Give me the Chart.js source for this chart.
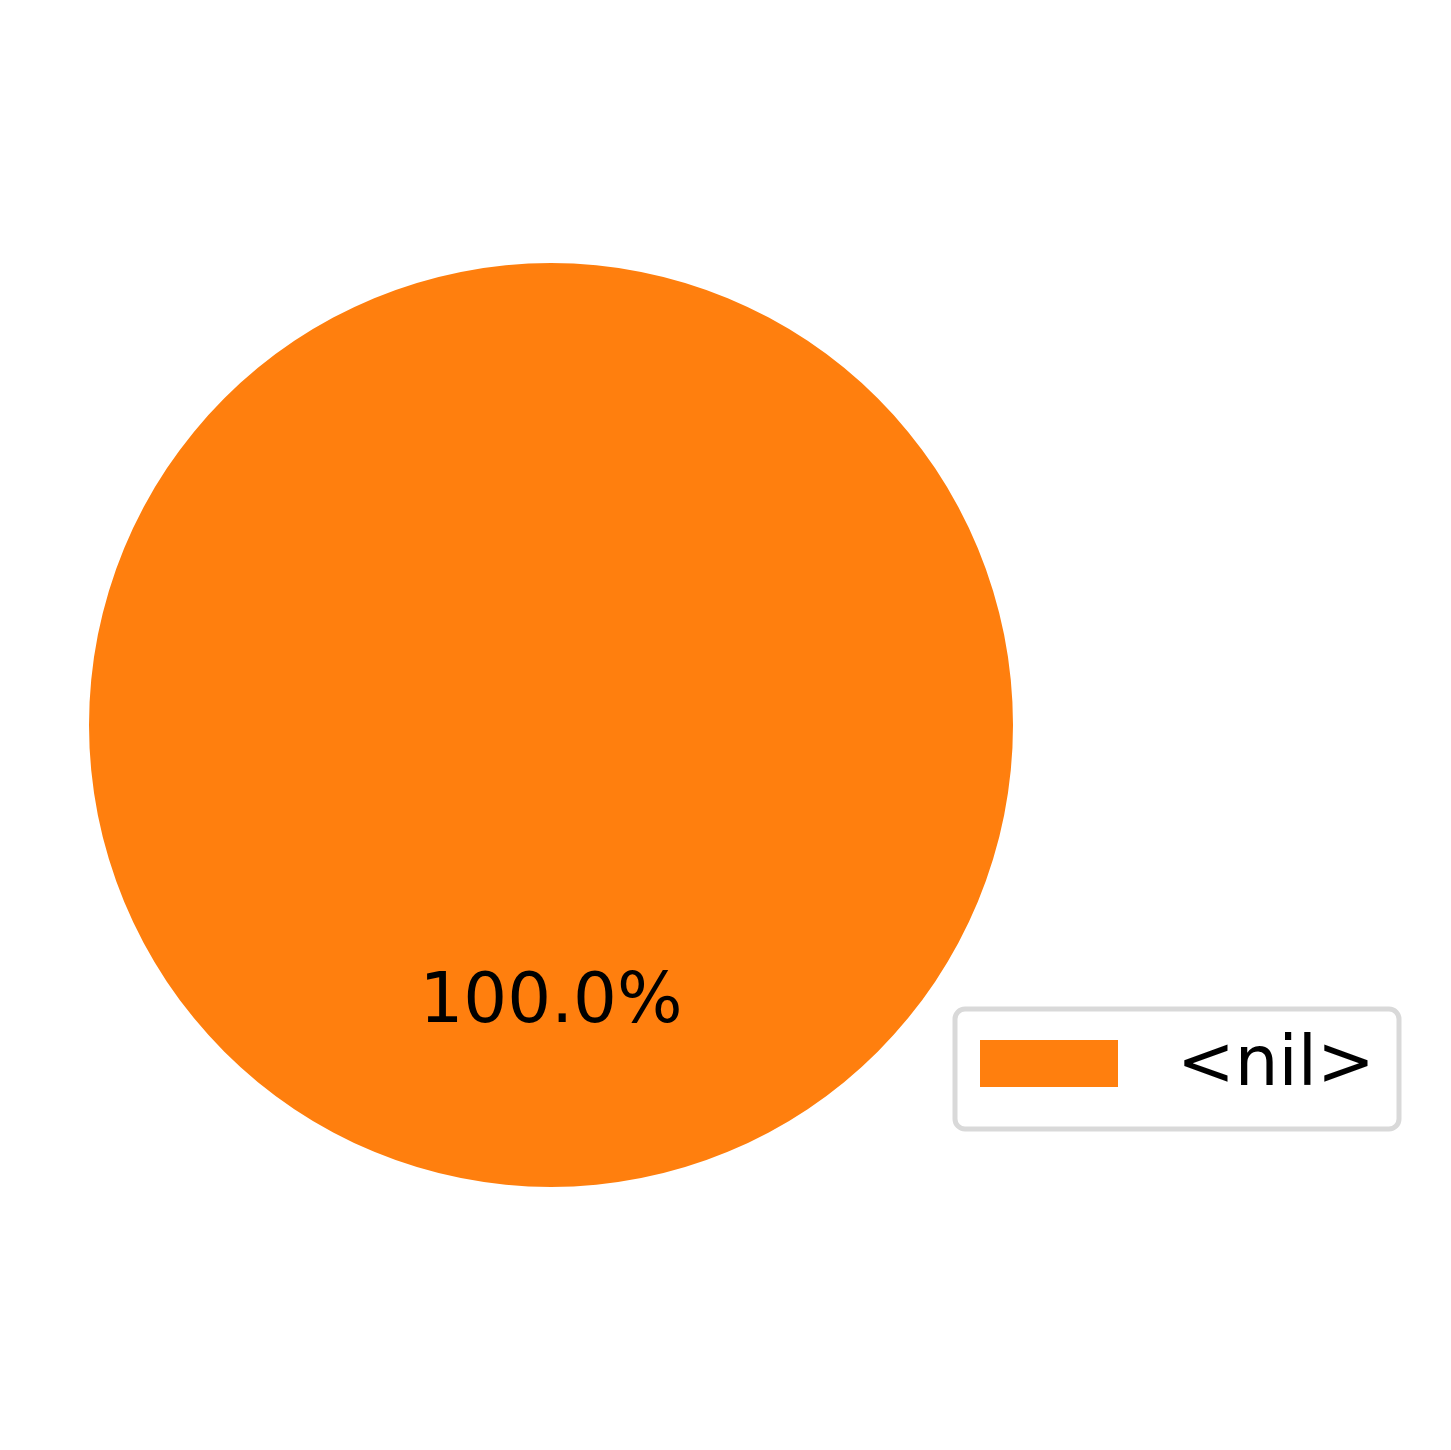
<!DOCTYPE html>
<html>
<head>
<meta charset="utf-8">
<script src="https://cdn.jsdelivr.net/npm/chart.js@4"></script>
<style>
  html, body { margin: 0; padding: 0; background: #ffffff; }
  #wrap { width: 1451px; height: 1450px; }
</style>
</head>
<body>
<div id="wrap"><canvas id="myChart" width="1451" height="1450"></canvas></div>
<script>
let labels = ['<nil>'];
let values = [1];
let colors = ['#ff7f0e'];

// percent label inside the slice, at 0.6 of the radius like matplotlib
let pctLabels = {
    id: 'pctLabels',
    afterDatasetsDraw(chart) {
        let ctx = chart.ctx;
        let meta = chart.getDatasetMeta(0);
        let total = values.reduce((a, b) => a + b, 0);
        ctx.save();
        ctx.fillStyle = '#000000';
        ctx.font = '69px "DejaVu Sans"';
        ctx.textAlign = 'center';
        ctx.textBaseline = 'middle';
        meta.data.forEach((arc, i) => {
            let p = arc.getProps(['x', 'y', 'startAngle', 'endAngle', 'outerRadius'], true);
            let mid = (p.startAngle + p.endAngle) / 2;
            let r = p.outerRadius * 0.6;
            let text = (values[i] / total * 100).toFixed(1) + '%';
            ctx.fillText(text, p.x + Math.cos(mid) * r, p.y + Math.sin(mid) * r + 2);
        });
        ctx.restore();
    }
};

// legend box in the lower right, drawn by hand so it doesn't shrink the pie
let boxLegend = {
    id: 'boxLegend',
    afterDraw(chart) {
        let ctx = chart.ctx;
        let x = 955, y = 1009, w = 444, h = 120, rad = 10;
        ctx.save();
        ctx.beginPath();
        ctx.roundRect(x, y, w, h, rad);
        ctx.fillStyle = 'rgba(255,255,255,0.8)';
        ctx.fill();
        ctx.lineWidth = 5;
        ctx.strokeStyle = '#d9d9d9';
        ctx.stroke();
        labels.forEach((lab, i) => {
            ctx.fillStyle = colors[i];
            ctx.fillRect(980, 1040 + i * 80, 138, 47);
            ctx.fillStyle = '#000000';
            ctx.font = '69px "DejaVu Sans"';
            ctx.textAlign = 'left';
            ctx.textBaseline = 'middle';
            ctx.fillText(lab, 1177, 1067 + i * 80);
        });
        ctx.restore();
    }
};

let myChart = document.getElementById('myChart').getContext('2d');

let newChart = new Chart(myChart, {
    type: 'pie',
    data: {
        labels: labels,
        datasets: [{
            data: values,
            backgroundColor: colors,
            borderWidth: 0
        }]
    },
    options: {
        responsive: false,
        animation: false,
        devicePixelRatio: 1,
        layout: {
            padding: { left: 89, right: 438, top: 263, bottom: 263 }
        },
        plugins: {
            legend: { display: false },
            tooltip: { enabled: false },
            title: { display: false }
        }
    },
    plugins: [pctLabels, boxLegend]
});
</script>
</body>
</html>
